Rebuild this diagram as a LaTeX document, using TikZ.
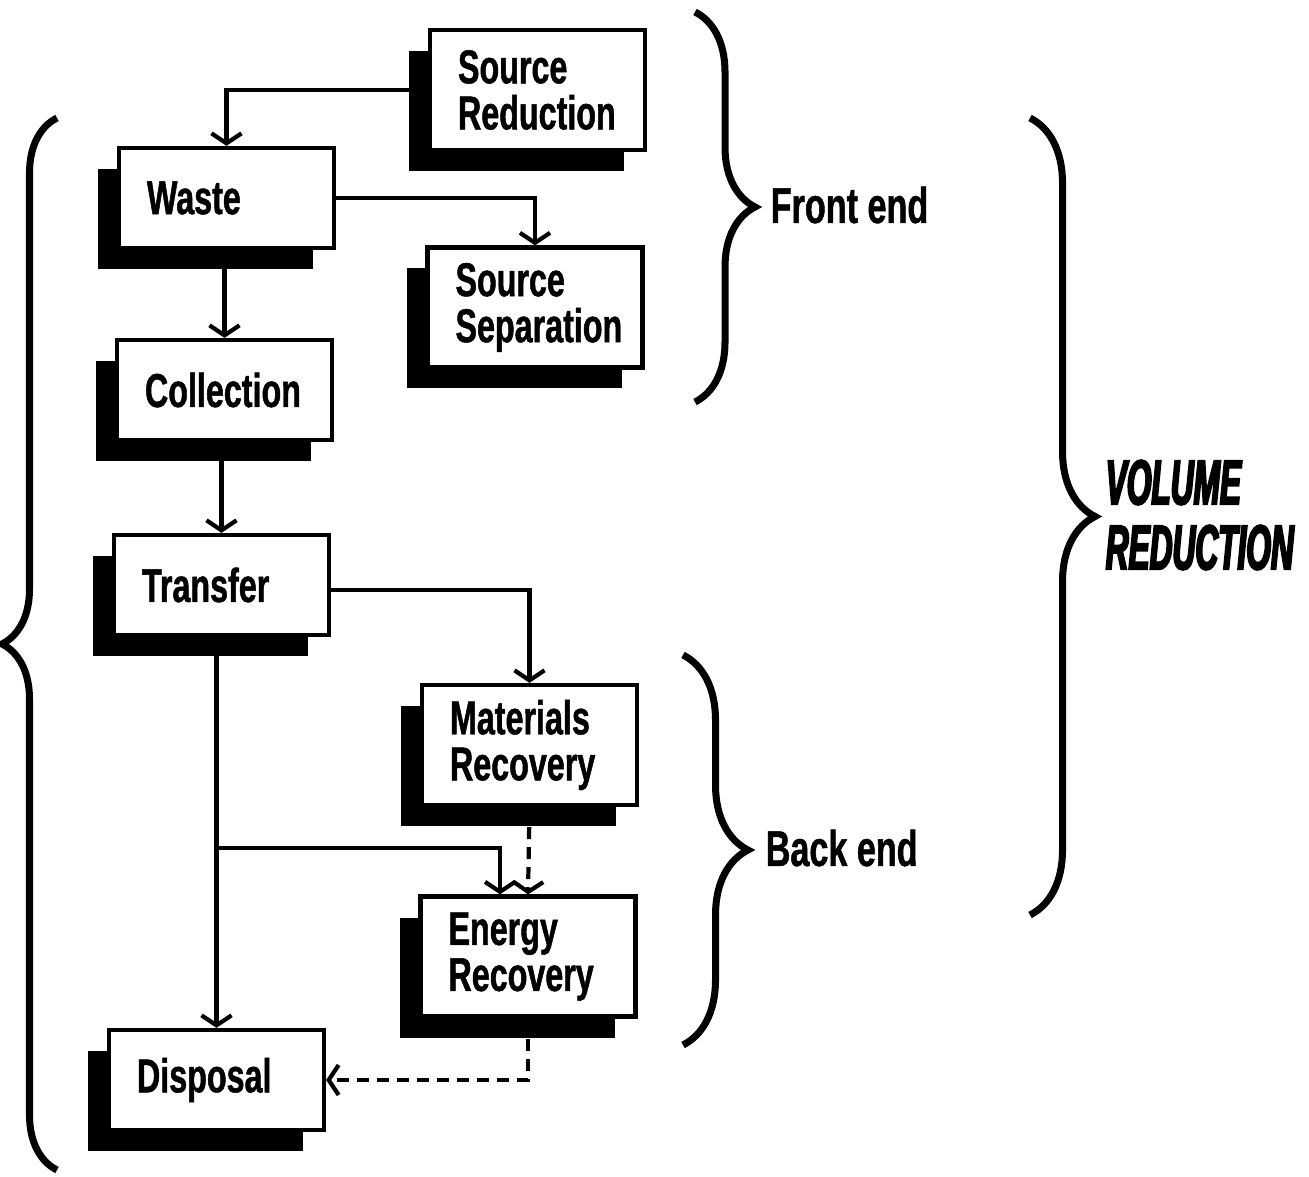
\documentclass[tikz,border=0pt]{standalone}
\usepackage{fontspec}
\setmainfont{Liberation Sans}
\newfontfamily\boxfont{Liberation Sans}[FakeStretch = 0.68, FakeBold = 1]
\newfontfamily\volfont{Liberation Sans}[FakeStretch = 0.5, FakeBold = 3]
\usetikzlibrary{arrows.meta, shadows, decorations.pathreplacing}
\tikzset{
    stagebox/.style = {
        draw         = black,
        fill         = white,
        line width   = 1.2pt,
        minimum width  = 2.15cm,
        minimum height = 1cm,
        text width   = 1.59cm,
        inner xsep   = 0.28cm,
        align        = left,
        font         = \boxfont\bfseries\fontsize{13.5}{13.1}\selectfont,
        drop shadow  = {shadow xshift=-0.21cm,shadow yshift=-0.21cm,fill=black,opacity=1},
    },
    tallbox/.style = {
        stagebox,
        minimum height = 1.2cm,
    },
    flow/.style = {
        line width = 1.2pt,
        -{Straight Barb[length = 1mm, width = 3mm]},
    },
    flowdash/.style = {
        flow,
        dash pattern = on 3.4pt off 2.3pt,
    },
    curly/.style = {
        line width = 2pt,
        decorate,
        decoration = {brace, amplitude = #1},
    },
    endlabel/.style = {
        anchor    = west,
        inner sep = 0pt,
        font      = \boxfont\bfseries\fontsize{14.3}{14}\selectfont,
    },
}
\begin{document}
\begin{tikzpicture}
    \useasboundingbox (0, 0) rectangle (13.09, -11.76);

    \node (reduction)  at (5.375, -0.90)  [tallbox]  {Source\\Reduction};
    \node (waste)      at (2.265, -1.98)  [stagebox] {Waste};
    \node (separation) at (5.350, -3.075) [tallbox]  {Source\\Separation};
    \node (collection) at (2.245, -3.90)  [stagebox] {Collection};
    \node (transfer)   at (2.215, -5.85)  [stagebox] {Transfer};
    \node (materials)  at (5.295, -7.45)  [tallbox]  {Materials\\Recovery};
    \node (energy)     at (5.280, -9.565) [tallbox]  {Energy\\Recovery};
    \node (disposal)   at (2.165, -10.80) [stagebox] {Disposal};

    \coordinate (branch) at (disposal.north |- 0, -8.48);

    \draw[flow] (reduction.west) -| (waste.north);
    \draw[flow] (waste.east) -| (separation.north);
    \draw[flow] (collection.north |- waste.south) -- (collection.north);
    \draw[flow] (transfer.north |- collection.south) -- (transfer.north);
    \draw[flow] ([yshift = -0.05cm] transfer.east) -| (materials.north);
    \draw[flow] (disposal.north |- transfer.south) -- (disposal.north);
    \draw[flow] (branch) -| ([xshift = -0.28cm] energy.north);
    \draw[flowdash] (materials.south) -- (energy.north);
    \draw[flowdash] (energy.south) |- (disposal.east);

    \draw[curly = 0.55cm] (0.57, -11.70) -- (0.57, -1.18);
    \draw[curly = 0.60cm] (6.95, -0.12)  -- (6.95, -4.02);
    \draw[curly = 0.65cm] (6.83, -6.55)  -- (6.83, -10.45);
    \draw[curly = 0.65cm] (10.30, -1.18) -- (10.30, -9.15);

    \node (frontend) at (7.70, -2.05) [endlabel] {Front end};
    \node (backend)  at (7.65, -8.48) [endlabel] {Back end};
    \node (volume)   at (11.05, -5.15) [
        anchor    = west,
        inner sep = 0pt,
        align     = left,
        font      = \volfont\bfseries\itshape\fontsize{18}{18.5}\selectfont,
    ] {VOLUME\\REDUCTION};
\end{tikzpicture}
\end{document}
